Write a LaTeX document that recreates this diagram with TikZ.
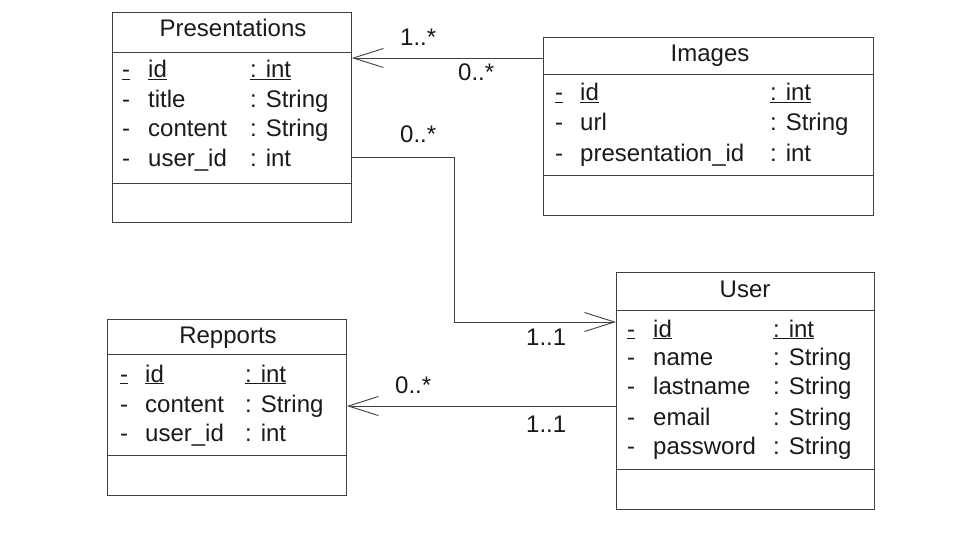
\documentclass[tikz,border=0pt]{standalone}
\usepackage{fontspec}
\setmainfont{Liberation Sans}
\usetikzlibrary{arrows.meta,calc}
\definecolor{linec}{HTML}{404040}
\definecolor{textc}{HTML}{1A1A1A}
\begin{document}
\begin{tikzpicture}[x=1pt,y=-1pt,
  classbox/.style={draw=linec, line width=0.9pt, rectangle, inner sep=0pt, anchor=north west},
  sepline/.style={draw=linec, line width=0.9pt},
  txt/.style={anchor=base west, inner sep=0pt, font=\fontsize{24}{28}\selectfont, text=textc},
  ttl/.style={anchor=base, inner sep=0pt, font=\fontsize{24}{28}\selectfont, text=textc},
  assoc/.style={draw=linec, line width=0.9pt, -{Straight Barb[length=30pt,width=19pt]}},
  mult/.style={anchor=base west, inner sep=0pt, font=\fontsize{24}{28}\selectfont, text=textc}
]
\useasboundingbox[fill=white] (0,0) rectangle (960,540);

% ---------- Presentations ----------
\node[classbox, minimum width=239pt, minimum height=210pt] (pres) at (112,12) {};
\draw[sepline] (pres.north west |- 0,52) -- (pres.north east |- 0,52);
\draw[sepline] (pres.north west |- 0,183) -- (pres.north east |- 0,183);
\node[ttl] (presT) at (233,37) {Presentations};
\node[txt] (p1a) at (122,78) {\underline{-}};
\node[txt] (p1b) at (148,78) {\underline{id}};
\node[txt] (p1c) at (250,78) {\underline{: int}};
\node[txt] (p2a) at (122,108) {-};
\node[txt] (p2b) at (148,108) {title};
\node[txt] (p2c) at (250,108) {: String};
\node[txt] (p3a) at (122,137) {-};
\node[txt] (p3b) at (148,137) {content};
\node[txt] (p3c) at (250,137) {: String};
\node[txt] (p4a) at (122,167) {-};
\node[txt] (p4b) at (148,167) {user\_id};
\node[txt] (p4c) at (250,167) {: int};

% ---------- Images ----------
\node[classbox, minimum width=330pt, minimum height=177.5pt] (img) at (543,37.5) {};
\draw[sepline] (img.north west |- 0,74) -- (img.north east |- 0,74);
\draw[sepline] (img.north west |- 0,175.5) -- (img.north east |- 0,175.5);
\node[ttl] (imgT) at (710,62) {Images};
\node[txt] (i1a) at (555,101) {\underline{-}};
\node[txt] (i1b) at (580,101) {\underline{id}};
\node[txt] (i1c) at (770,101) {\underline{: int}};
\node[txt] (i2a) at (555,131) {-};
\node[txt] (i2b) at (580,131) {url};
\node[txt] (i2c) at (770,131) {: String};
\node[txt] (i3a) at (555,161) {-};
\node[txt] (i3b) at (580,161) {presentation\_id};
\node[txt] (i3c) at (770,161) {: int};

% ---------- User ----------
\node[classbox, minimum width=258pt, minimum height=237pt] (usr) at (616,272) {};
\draw[sepline] (usr.north west |- 0,310.5) -- (usr.north east |- 0,310.5);
\draw[sepline] (usr.north west |- 0,469) -- (usr.north east |- 0,469);
\node[ttl] (usrT) at (745,297) {User};
\node[txt] (u1a) at (627,337) {\underline{-}};
\node[txt] (u1b) at (653,337) {\underline{id}};
\node[txt] (u1c) at (773,337) {\underline{: int}};
\node[txt] (u2a) at (627,365) {-};
\node[txt] (u2b) at (653,365) {name};
\node[txt] (u2c) at (773,365) {: String};
\node[txt] (u3a) at (627,394) {-};
\node[txt] (u3b) at (653,394) {lastname};
\node[txt] (u3c) at (773,394) {: String};
\node[txt] (u4a) at (627,425) {-};
\node[txt] (u4b) at (653,425) {email};
\node[txt] (u4c) at (773,425) {: String};
\node[txt] (u5a) at (627,454) {-};
\node[txt] (u5b) at (653,454) {password};
\node[txt] (u5c) at (773,454) {: String};

% ---------- Repports ----------
\node[classbox, minimum width=239pt, minimum height=176.5pt] (rep) at (107,318.5) {};
\draw[sepline] (rep.north west |- 0,354.5) -- (rep.north east |- 0,354.5);
\draw[sepline] (rep.north west |- 0,455.5) -- (rep.north east |- 0,455.5);
\node[ttl] (repT) at (228,343) {Repports};
\node[txt] (r1a) at (120,382) {\underline{-}};
\node[txt] (r1b) at (145,382) {\underline{id}};
\node[txt] (r1c) at (245,382) {\underline{: int}};
\node[txt] (r2a) at (120,412) {-};
\node[txt] (r2b) at (145,412) {content};
\node[txt] (r2c) at (245,412) {: String};
\node[txt] (r3a) at (120,441) {-};
\node[txt] (r3b) at (145,441) {user\_id};
\node[txt] (r3c) at (245,441) {: int};

% ---------- Connectors ----------
\draw[assoc] (img.north west |- 0,58) -- (pres.north east |- 0,58);
\node[mult] (m1) at (400,46) {1..*};
\node[mult] (m2) at (458,81) {0..*};

\coordinate (bend1) at (454,157);
\coordinate (bend2) at (454,322);
\draw[assoc] (pres.north east |- bend1) -- (bend1) -- (bend2) -- (usr.north west |- bend2);
\node[mult] (m3) at (400,143) {0..*};
\node[mult] (m4) at (526,345) {1..1};

\draw[assoc] (usr.north west |- 0,406) -- (rep.north east |- 0,406);
\node[mult] (m5) at (395,393) {0..*};
\node[mult] (m6) at (526,432) {1..1};
\end{tikzpicture}
\end{document}
